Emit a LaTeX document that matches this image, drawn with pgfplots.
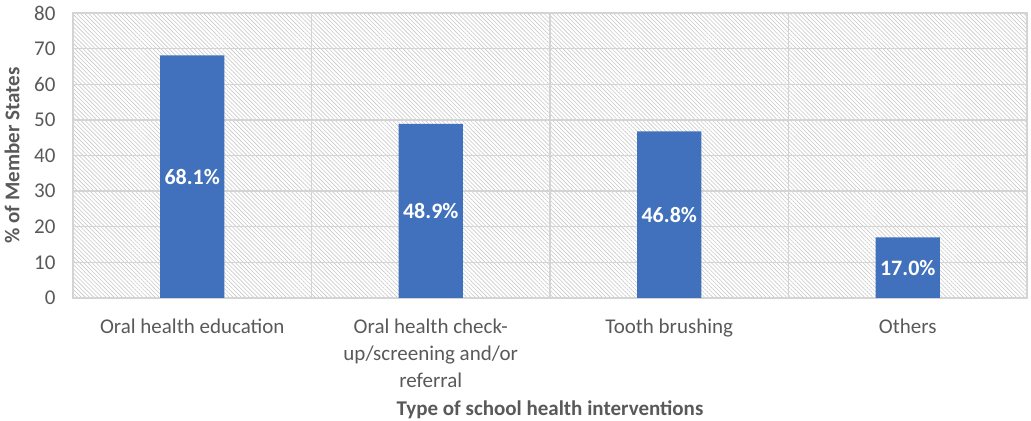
\documentclass[border=0pt]{standalone}
\usepackage{fontspec}
\setmainfont{Carlito}
\usepackage{pgfplots}
\pgfplotsset{compat=1.18}
\usetikzlibrary{patterns.meta}
\definecolor{barblue}{RGB}{65,113,188}
\definecolor{gridc}{RGB}{212,212,212}
\definecolor{hatchc}{RGB}{200,200,200}
\definecolor{txt}{RGB}{89,89,89}
\begin{document}
\begin{tikzpicture}
\begin{axis}[
  scale only axis,
  width=954bp, height=285bp,
  xmin=-0.5, xmax=3.5, ymin=0, ymax=80,
  ytick={0,10,...,80},
  xtick={0,1,2,3},
  xticklabels={Oral health education,{Oral health check-\\up/screening and/or\\referral},Tooth brushing,Others},
  minor xtick={0.5,1.5,2.5},
  xminorgrids=true, ymajorgrids=true,
  major tick length=0pt, minor tick length=0pt,
  grid style={gridc, line width=1.3bp},
  minor grid style={gridc, line width=1.3bp},
  axis line style={gridc, line width=1.3bp},
  axis background/.style={pattern={Lines[angle=-45,distance=2.9bp,line width=0.6bp]}, pattern color=hatchc},
  /pgf/number format/assume math mode=true,
  tick label style={font=\fontsize{21bp}{27bp}\selectfont, text=txt},
  yticklabel style={xshift=-14bp},
  xticklabel style={align=center, yshift=-17bp},
  ylabel={\% of Member States},
  xlabel={Type of school health interventions},
  every axis y label/.style={at={(axis description cs:0,0.5)}, rotate=90, anchor=center, yshift=61bp, font=\bfseries\fontsize{21bp}{24bp}\selectfont, text=txt},
  every axis x label/.style={at={(axis description cs:0.5,0)}, anchor=center, yshift=-112bp, font=\bfseries\fontsize{21bp}{24bp}\selectfont, text=txt},
  ybar, bar width=0.27,
]
\addplot[fill=barblue, draw=none,
  nodes near coords={\pgfmathprintnumber[fixed,fixed zerofill,precision=1]{\pgfplotspointmeta}\%},
  visualization depends on={y \as \rawy},
  every node near coord/.append style={anchor=center, shift={(axis direction cs:0,-\rawy/2)}, text=white, font=\bfseries\fontsize{22bp}{24bp}\selectfont},
] coordinates {(0,68.1) (1,48.9) (2,46.8) (3,17.0)};
\end{axis}
\pgfresetboundingbox
\path (current axis.south west) ++(-73bp,-123bp) coordinate (bl);
\path (current axis.north east) ++(4bp,13bp) coordinate (tr);
\path[use as bounding box] (bl) rectangle (tr);
\end{tikzpicture}
\end{document}
